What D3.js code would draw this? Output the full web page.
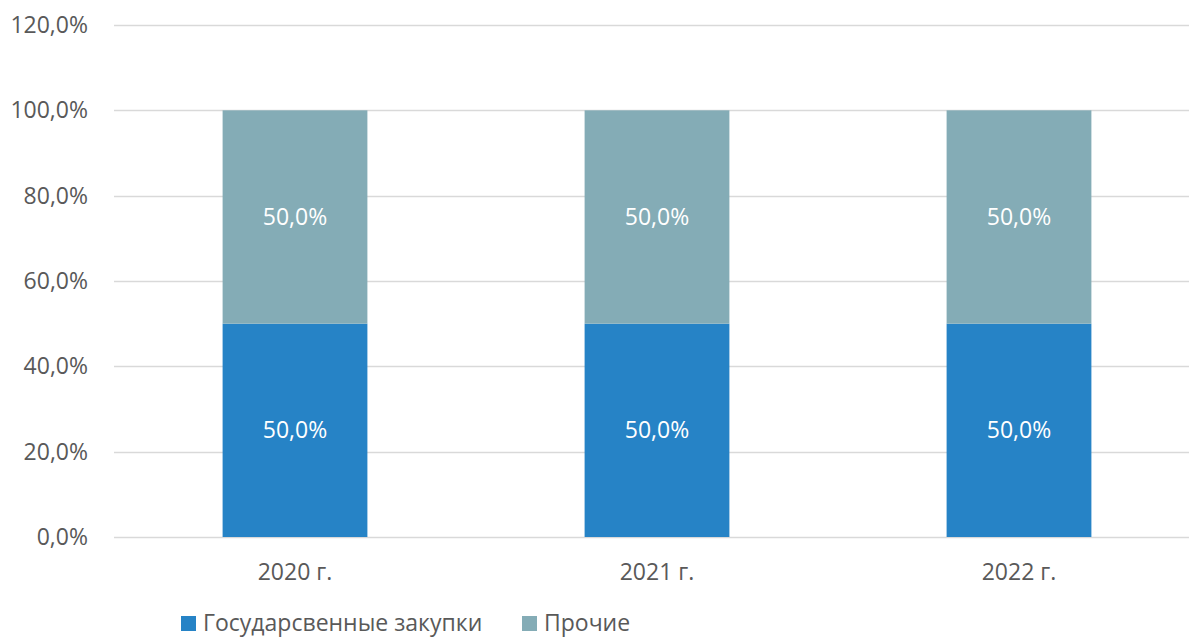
<!DOCTYPE html>
<html lang="en">
<head>
<meta charset="UTF-8">
<title>Chart</title>
<script src="https://d3js.org/d3.v7.min.js"></script>
<style>
  body { margin: 0; background: #fff; }
  svg { display: block; font-family: "Open Sans", "Noto Sans", sans-serif; }
</style>
</head>
<body>
<svg width="1189" height="639"></svg>
<script>
    const years = ["2020 г.", "2021 г.", "2022 г."]
    const seriesNames = ["Государсвенные закупки", "Прочие"]
    const gosValues = [0.5, 0.5, 0.5]
    const otherValues = [0.5, 0.5, 0.5]
    const yTicks = [0, 0.2, 0.4, 0.6, 0.8, 1.0, 1.2]
    const colors = ["#2683c6", "#84acb6"]

    let svg = d3.select("svg")
    let width = 1189

    let x = d3.scaleBand()
        .domain(years)
        .range([114, 1200])
        .paddingInner(0.6)
        .paddingOuter(0.3)
    let y = d3.scaleLinear()
        .domain([0, 1.2])
        .range([537, 25])

    let fmt = function (v) { return (v * 100).toFixed(1).replace(".", ",") + "%" }

    // gridlines
    svg.append("g")
        .selectAll("line")
        .data(yTicks)
        .enter()
        .append("line")
        .attr("x1", 114)
        .attr("x2", width)
        .attr("y1", function (d) { return Math.round(y(d)) + 0.5 })
        .attr("y2", function (d) { return Math.round(y(d)) + 0.5 })
        .attr("stroke", "#d9d9d9")
        .attr("stroke-width", 1.5)

    // y tick labels
    svg.append("g")
        .selectAll("text")
        .data(yTicks)
        .enter()
        .append("text")
        .attr("x", 88)
        .attr("y", function (d) { return y(d) })
        .attr("dy", "0.35em")
        .attr("text-anchor", "end")
        .attr("font-size", 23)
        .attr("fill", "#595959")
        .text(fmt)

    // stacked data
    let rows = years.map(function (yr, i) {
        return { year: yr, gos: gosValues[i], other: otherValues[i] }
    })
    let stack = d3.stack().keys(["gos", "other"])(rows)

    let layers = svg.append("g")
        .selectAll("g")
        .data(stack)
        .enter()
        .append("g")
        .attr("fill", function (d, i) { return colors[i] })

    layers.selectAll("rect")
        .data(function (d) { return d })
        .enter()
        .append("rect")
        .attr("x", function (d) { return x(d.data.year) })
        .attr("width", x.bandwidth())
        .attr("y", function (d) { return y(d[1]) })
        .attr("height", function (d) { return y(d[0]) - y(d[1]) })

    layers.selectAll("text")
        .data(function (d) { return d })
        .enter()
        .append("text")
        .attr("x", function (d) { return x(d.data.year) + x.bandwidth() / 2 })
        .attr("y", function (d) { return (y(d[0]) + y(d[1])) / 2 })
        .attr("dy", "0.35em")
        .attr("text-anchor", "middle")
        .attr("font-size", 23)
        .attr("fill", "#ffffff")
        .text(function (d) { return fmt(d[1] - d[0]) })

    // x labels
    svg.append("g")
        .selectAll("text")
        .data(years)
        .enter()
        .append("text")
        .attr("x", function (d) { return x(d) + x.bandwidth() / 2 })
        .attr("y", 572)
        .attr("dy", "0.35em")
        .attr("text-anchor", "middle")
        .attr("font-size", 23)
        .attr("fill", "#595959")
        .text(function (d) { return d })

    // legend
    let legendX = [181, 522]
    let legend = svg.append("g")
        .selectAll("g")
        .data(seriesNames)
        .enter()
        .append("g")
        .attr("transform", function (d, i) { return `translate(${legendX[i]},616)` })
    legend.append("rect")
        .attr("width", 15)
        .attr("height", 15)
        .attr("fill", function (d, i) { return colors[i] })
    legend.append("text")
        .attr("x", 22)
        .attr("y", 7)
        .attr("dy", "0.35em")
        .attr("font-size", 23)
        .attr("fill", "#595959")
        .text(function (d) { return d })
</script>
</body>
</html>
